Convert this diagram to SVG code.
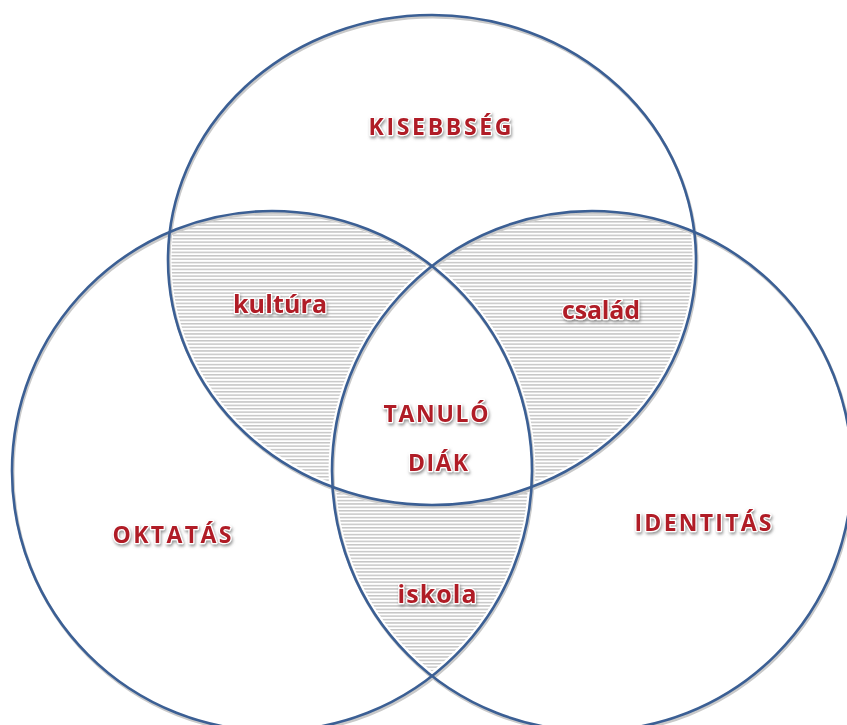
<svg xmlns="http://www.w3.org/2000/svg" width="847" height="725" viewBox="0 0 847 725">
<style>
.ring{fill:none;stroke:#3b5f94;stroke-width:2.6}
.halo{fill:none;stroke:#ffffff;stroke-width:7}
.shadow{fill:none;stroke:#c9c9c9;stroke-width:3}
.lbl{font-family:"Open Sans",Lato,"Liberation Sans",sans-serif;font-weight:700;fill:#b01e28;stroke:#ffffff;stroke-width:2.5;paint-order:stroke;stroke-linejoin:round;text-anchor:middle;filter:url(#ts)}
.caps{font-size:23px}
.low{font-size:25px}
</style>
<defs>
<pattern id="stripes" patternUnits="userSpaceOnUse" width="8" height="3.4">
<rect width="8" height="3.4" fill="#ffffff"/>
<rect y="0" width="8" height="1.5" fill="#c6c6c6"/>
</pattern>
<clipPath id="cT"><ellipse cx="432" cy="260" rx="264" ry="245"/></clipPath>
<clipPath id="cL"><circle cx="272" cy="471" r="260"/></clipPath>
<clipPath id="cR"><circle cx="592" cy="471" r="260"/></clipPath>
<filter id="ts" x="-10%" y="-30%" width="120%" height="170%">
<feDropShadow dx="1" dy="2" stdDeviation="1.4" flood-color="#7a7a7a" flood-opacity="0.8"/>
</filter>
</defs>
<rect width="847" height="725" fill="#ffffff"/>
<g id="shading">
<g clip-path="url(#cT)"><g clip-path="url(#cL)"><rect width="847" height="725" fill="url(#stripes)"/></g></g>
<g clip-path="url(#cT)"><g clip-path="url(#cR)"><rect width="847" height="725" fill="url(#stripes)"/></g></g>
<g clip-path="url(#cL)"><g clip-path="url(#cR)"><rect width="847" height="725" fill="url(#stripes)"/></g></g>
<g clip-path="url(#cT)"><g clip-path="url(#cL)"><circle cx="592" cy="471" r="260" fill="#ffffff"/></g></g>
</g>
<g id="halos">
<ellipse class="halo" cx="432" cy="260" rx="264" ry="245"/>
<circle class="halo" cx="272" cy="471" r="260"/>
<circle class="halo" cx="592" cy="471" r="260"/>
<ellipse class="shadow" cx="433" cy="262" rx="264" ry="245"/>
<circle class="shadow" cx="273" cy="473" r="260"/>
<circle class="shadow" cx="593" cy="473" r="260"/>
</g>
<g id="kisebbseg">
<ellipse class="ring" cx="432" cy="260" rx="264" ry="245"/>
<text class="lbl caps" x="440" y="135" textLength="143">KISEBBSÉG</text>
</g>
<g id="oktatas">
<circle class="ring" cx="272" cy="471" r="260"/>
<text class="lbl caps" x="172" y="543" textLength="119">OKTATÁS</text>
</g>
<g id="identitas">
<circle class="ring" cx="592" cy="471" r="260"/>
<text class="lbl caps" x="703" y="531" textLength="137">IDENTITÁS</text>
</g>
<g id="kultura">
<text class="lbl low" x="280" y="313" textLength="94">kultúra</text>
</g>
<g id="csalad">
<text class="lbl low" x="601" y="319" textLength="78">család</text>
</g>
<g id="iskola">
<text class="lbl low" x="437" y="603" textLength="79">iskola</text>
</g>
<g id="tanulo-diak">
<text class="lbl caps" x="436" y="422" textLength="105">TANULÓ</text>
<text class="lbl caps" x="438" y="471" textLength="60">DIÁK</text>
</g>
</svg>
